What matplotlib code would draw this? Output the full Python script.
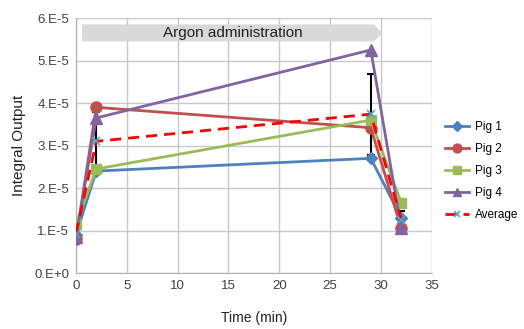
import numpy as np
import matplotlib
matplotlib.use('Agg')
import matplotlib.pyplot as plt
from matplotlib.patches import Polygon

# data (units of 1e-5)
times = [0, 2, 29, 32]
pig1 = [0.90, 2.40, 2.70, 1.30]
pig2 = [0.80, 3.90, 3.42, 1.05]
pig3 = [1.15, 2.45, 3.60, 1.65]
pig4 = [0.85, 3.65, 5.25, 1.05]
average = [0.93, 3.10, 3.74, 1.26]
avg_err = [0.0, 0.70, 0.95, 0.20]

series = [
    ('Pig 1', pig1, '#4F81BD', 'D', 6),
    ('Pig 2', pig2, '#C0504D', 'o', 8),
    ('Pig 3', pig3, '#9BBB59', 's', 7.5),
    ('Pig 4', pig4, '#8064A2', '^', 8),
]

argon_start, argon_end = 0.6, 30.2
argon_label = 'Argon administration'

plt.rcParams['font.family'] = ['Liberation Sans', 'DejaVu Sans']

fig = plt.figure(figsize=(5.24, 3.29), dpi=100)
ax = fig.add_axes([0.145, 0.170, 0.679, 0.775])

scale = 1e-5
t = np.array(times)

for name, vals, col, mk, ms in series:
    ax.plot(t, np.array(vals) * scale, color=col, lw=2, marker=mk, ms=ms,
            label=name, zorder=3)

ax.errorbar(t, np.array(average) * scale, yerr=np.array(avg_err) * scale,
            fmt='none', ecolor='black', elinewidth=1.5, capsize=3, capthick=1.5,
            zorder=2)
ax.plot(t, np.array(average) * scale, color='#FF0000', lw=2, ls=(0, (4, 2.5)),
        marker='x', ms=6, mec='#4BACC6', mew=1.2, label='Average', zorder=4)

# grey arrow banner
y0, y1 = 5.45 * scale, 5.85 * scale
head = 0.9
ax.add_patch(Polygon([(argon_start, y0), (argon_end - head, y0), (argon_end, (y0 + y1) / 2),
                      (argon_end - head, y1), (argon_start, y1)],
                     closed=True, facecolor='#D9D9D9', edgecolor='none', zorder=2.5))
ax.text((argon_start + argon_end) / 2, (y0 + y1) / 2, argon_label, ha='center', va='center',
        fontsize=11, color='#202020', zorder=3)

ax.set_xlim(0, 35)
ax.set_ylim(0, 6e-5)
ax.set_xticks(np.arange(0, 36, 5))
ax.set_yticks(np.arange(0, 7) * scale)
ax.set_yticklabels(['0.E+0', '1.E-5', '2.E-5', '3.E-5', '4.E-5', '5.E-5', '6.E-5'])
ax.tick_params(length=0, labelsize=9.5, colors='#404040', pad=5)
ax.grid(True, color='#C8C8C8', lw=1)
ax.set_axisbelow(True)
for s in ['top', 'right']:
    ax.spines[s].set_visible(False)
for s in ['left', 'bottom']:
    ax.spines[s].set_color('#B0B0B0')

ax.set_xlabel('Time (min)', fontsize=10, labelpad=14, color='#202020')
ax.set_ylabel('Integral Output', fontsize=11, labelpad=6, color='#202020')

ax.legend(loc='center left', bbox_to_anchor=(1.015, 0.40), frameon=False, fontsize=8.5,
          handlelength=2.0, handletextpad=0.5, labelspacing=0.85, markerscale=0.8,
          borderaxespad=0.3)

fig.savefig('out.png', dpi=100)
